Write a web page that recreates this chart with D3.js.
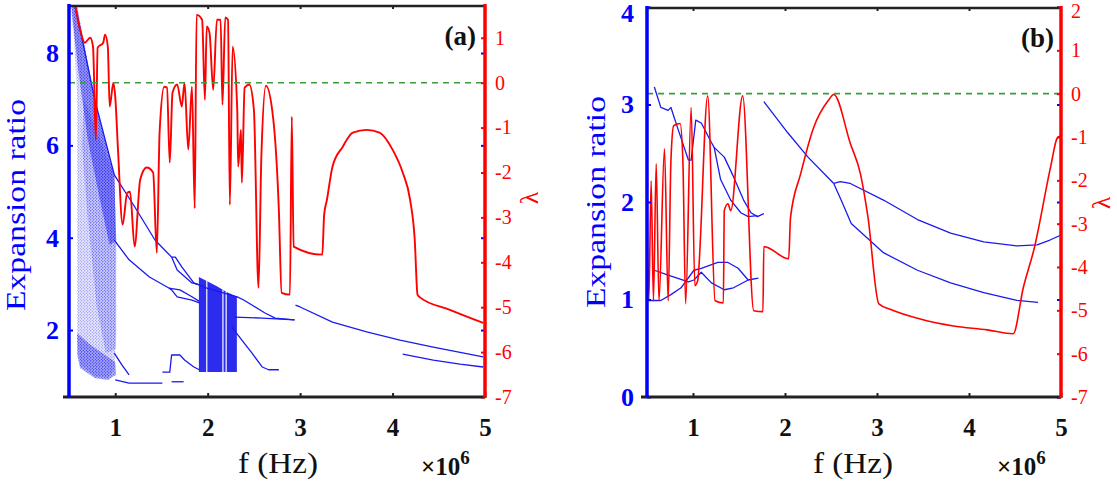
<!DOCTYPE html>
<html><head><meta charset="utf-8">
<script src="https://cdn.jsdelivr.net/npm/d3@7"></script>
<style>body{margin:0;background:#fff;}svg{display:block;}</style>
</head><body>
<svg id="chart" width="1117" height="481"></svg>
<script>
// ---------------- DATA ----------------
const xTicks = [1, 2, 3, 4, 5];
const xTopTicks = [1, 2, 3, 4];
const aLeftTicks = [2, 4, 6, 8];
const aRightTicks = [-7, -6, -5, -4, -3, -2, -1, 0, 1];
const bLeftTicks = [0, 1, 2, 3, 4];
const bRightTicks = [-7, -6, -5, -4, -3, -2, -1, 0, 1, 2];
const lambdaZero = 0;

// panel (a): Lyapunov exponent lambda vs f (x1e6 Hz)
const aLambda = [[0.565,1.74],[0.62,1.18],[0.67,0.89],[0.73,1.0],[0.76,0.80],[0.79,-1.27],[0.81,0.78],[0.87,0.89],[0.89,1.07],[0.92,0.80],[0.94,-0.53],[0.98,0],[1.0,-0.31],[1.03,-1.49],[1.08,-3.16],[1.13,-2.45],[1.16,-2.43],[1.21,-3.65],[1.27,-2.16],[1.34,-1.89],[1.41,-2.0],[1.45,-3.79],[1.48,-1.11],[1.53,-0.09],[1.56,-0.11],[1.59,-1.78],[1.62,-0.22],[1.67,-0.04],[1.72,-0.53],[1.75,0],[1.79,-1.49],[1.83,-0.09],[1.86,-2.8],[1.88,1.51],[1.94,1.40],[1.97,-0.38],[1.99,1.25],[2.02,1.11],[2.06,-0.16],[2.10,1.40],[2.14,1.40],[2.16,-0.49],[2.19,1.45],[2.22,1.40],[2.24,-2.72],[2.27,0.80],[2.32,-0.60],[2.33,-1.87],[2.36,-1.05],[2.37,-2.23],[2.40,-0.11],[2.45,-0.04],[2.50,-0.60],[2.55,-4.57],[2.58,-1.71],[2.63,-0.07],[2.71,-0.82],[2.77,-2.83],[2.80,-4.68],[2.89,-4.72],[2.91,-0.76],[2.93,-3.65],[3.24,-3.83],[3.26,-2.94],[3.29,-2.61],[3.35,-1.87],[3.46,-1.43],[3.57,-1.11],[3.72,-1.05],[3.86,-1.11],[4.00,-1.49],[4.11,-2.0],[4.19,-2.61],[4.24,-3.50],[4.27,-4.72],[4.29,-4.77],[4.62,-5.06],[4.98,-5.35]];

// panel (a): expansion-ratio branches
const aCurve1 = [[0.565,9.04],[0.78,6.98],[0.99,5.36],[1.21,4.67],[1.43,3.95],[1.61,3.58]];
const aLoop1Upper = [[1.61,3.58],[1.65,3.58],[1.72,3.37],[1.85,3.02],[1.91,2.98],[2.0,2.90],[2.32,2.72],[2.39,2.65],[2.62,2.37],[2.73,2.26],[2.94,2.22]];
const aLoop1Lower = [[1.61,3.58],[1.67,3.30],[1.83,3.02],[1.91,2.98]];
const aCurve2 = [[0.99,3.95],[1.15,3.52],[1.37,3.15],[1.58,2.91],[1.61,2.87],[1.67,2.72],[1.83,2.65],[1.91,2.59]];
const aLoop2 = [[1.58,2.91],[1.70,2.87],[1.83,2.72],[1.91,2.62]];
const aBranch2 = [[2.29,2.28],[2.59,2.26],[2.94,2.22]];
const aDescend = [[2.26,2.07],[2.37,1.78],[2.48,1.50],[2.59,1.20],[2.66,1.14],[2.77,1.14]];
const aLong = [[2.95,2.54],[3.0,2.50],[3.35,2.17],[3.72,1.96],[4.08,1.78],[4.44,1.63],[4.98,1.42]];
const aShort = [[4.11,1.48],[4.44,1.35],[4.73,1.26],[4.98,1.20]];
const aBump = [[1.51,1.09],[1.59,1.09],[1.61,1.46],[1.70,1.46],[1.75,1.35],[1.85,1.20],[1.91,1.14]];
const aBottom = [[1.0,0.92],[1.15,0.85],[1.51,0.85]];
const aBottom2 = [[1.61,0.88],[1.74,0.88]];
const aWisp = [[0.99,1.50],[1.07,1.25],[1.15,1.03]];
// chaotic clouds (outlines of the dense scatter regions)
const aCloudOuter = [[0.52,9.04],[0.575,9.04],[0.78,6.98],[0.99,5.36],[1.01,3.95],[1.01,2.0],[0.99,1.14],[0.92,0.96],[0.78,1.0],[0.62,1.24],[0.59,1.78],[0.59,3.73],[0.59,6.98],[0.555,8.28]];
const aCloudMid = [[0.66,7.0],[0.99,5.36],[1.01,3.95],[1.01,1.6],[0.90,1.5],[0.80,2.5],[0.70,4.5],[0.64,6.0]];
const aCloudBand = [[0.53,9.04],[0.585,9.04],[0.78,6.98],[0.99,5.36],[1.01,3.95],[0.94,3.84],[0.835,4.82],[0.705,6.11],[0.60,7.63],[0.54,8.72]];
const aCloudBlob = [[0.59,1.93],[0.73,1.68],[0.89,1.46],[1.0,1.31],[1.01,1.03],[0.92,0.92],[0.78,0.96],[0.62,1.18],[0.59,1.46]];
const aBlockX = [1.905, 2.0, 2.1, 2.2, 2.316];
const aBlockTop = [3.15, 3.05, 2.95, 2.83, 2.72];
const aBlockBottom = 1.09;
const aBlockGaps = [1.99, 2.165, 2.2];

// panel (b)
const bLambda = [[0.5,-2.2],[0.52,-4.78],[0.545,-2.01],[0.57,-4.78],[0.60,-1.62],[0.63,-4.78],[0.69,-1.27],[0.73,-4.78],[0.76,-1.55],[0.79,-0.74],[0.86,-0.69],[0.89,-1.55],[0.92,-4.85],[0.98,-0.32],[1.02,-4.43],[1.05,-4.32],[1.16,-0.05],[1.24,-4.78],[1.33,-4.83],[1.34,-2.70],[1.38,-2.54],[1.41,-2.70],[1.54,-0.05],[1.66,-5.01],[1.76,-5.03],[1.77,-3.53],[2.04,-3.81],[2.06,-2.86],[2.17,-1.85],[2.31,-0.79],[2.47,-0.16],[2.53,-0.02],[2.71,-1.15],[2.82,-1.85],[2.90,-2.82],[3.02,-4.85],[3.15,-4.98],[3.47,-5.20],[3.83,-5.36],[4.20,-5.45],[4.48,-5.54],[4.59,-4.48],[4.71,-3.56],[4.89,-1.66],[4.96,-1.02],[5.0,-0.97]];
const bCurve1 = [[0.58,3.18],[0.65,2.97],[0.73,2.94],[0.76,2.97],[0.84,2.74],[0.95,2.43],[0.98,2.43],[1.03,2.84],[1.09,2.81],[1.20,2.61],[1.23,2.56],[1.34,2.46],[1.44,2.26],[1.55,2.02],[1.63,1.89],[1.70,1.85],[1.77,1.88]];
const bCurve2 = [[1.23,2.56],[1.30,2.23],[1.41,2.02],[1.52,1.89],[1.60,1.85],[1.70,1.86]];
const bLow1 = [[0.51,0.99],[0.65,0.99],[0.76,1.05],[0.87,1.12],[1.01,1.30],[1.09,1.32],[1.27,1.38],[1.38,1.38],[1.49,1.32],[1.60,1.20],[1.71,1.22]];
const bLow2 = [[0.58,1.30],[0.73,1.25],[0.95,1.18],[1.01,1.20],[1.09,1.28],[1.20,1.17],[1.34,1.10],[1.44,1.12],[1.60,1.20]];
const bMain = [[1.77,3.03],[2.03,2.71],[2.25,2.46],[2.53,2.19]];
const bUpper = [[2.53,2.19],[2.60,2.21],[2.71,2.19],[3.07,2.02],[3.44,1.82],[3.80,1.68],[4.16,1.59],[4.52,1.55],[4.74,1.56],[4.88,1.61],[5.0,1.66]];
const bLower = [[2.53,2.19],[2.61,2.02],[2.72,1.78],[3.07,1.48],[3.44,1.30],[3.80,1.17],[4.16,1.07],[4.52,0.99],[4.75,0.97]];

// ---------------- DRAWING ----------------
const FONT = '"Liberation Serif","Times New Roman",Times,serif';
const BLUE = '#1a1aee', AXBLUE = '#0000ff', RED = '#ff0000', GREEN = '#3c9c3c', DARK = '#222';
const svg = d3.select('#chart');
const defs = svg.append('defs');
const pat = defs.append('pattern').attr('id','dots').attr('patternUnits','userSpaceOnUse').attr('width',3).attr('height',3);
pat.append('circle').attr('cx',0.8).attr('cy',0.8).attr('r',0.6).attr('fill',BLUE);
pat.append('circle').attr('cx',2.3).attr('cy',2.2).attr('r',0.5).attr('fill',BLUE);

function drawPanel(cfg, d) {
  const x = d3.scaleLinear().domain([0.5, 5]).range([cfg.left, cfg.right]);
  const yL = d3.scaleLinear().domain(cfg.yL).range([cfg.bottom, cfg.top]);
  const yR = d3.scaleLinear().domain(cfg.yR).range([cfg.bottom, cfg.top]);
  defs.append('clipPath').attr('id','clip'+cfg.id).append('rect')
    .attr('x',cfg.left).attr('y',cfg.top).attr('width',cfg.right-cfg.left).attr('height',cfg.bottom-cfg.top);
  const plot = svg.append('g').attr('clip-path','url(#clip'+cfg.id+')');
  const lineL = d3.line().x(p=>x(p[0])).y(p=>yL(p[1]));
  const polyL = d3.line().x(p=>x(p[0])).y(p=>yL(p[1])).curve(d3.curveLinearClosed);
  const lineR = d3.line().x(p=>x(p[0])).y(p=>yR(p[1])).curve(d3.curveMonotoneX);

  (d.clouds||[]).forEach(c => {
    if (c.op) plot.append('path').attr('d', polyL(c.pts)).attr('fill','url(#dots)').attr('opacity',c.op);
    if (c.solid) plot.append('path').attr('d', polyL(c.pts)).attr('fill',BLUE).attr('opacity',c.solid);
  });
  if (d.block) {
    const area = d3.area().x(p=>x(p[0])).y0(yL(d.block.bottom)).y1(p=>yL(p[1]));
    const pts = d.block.xs.map((v,i)=>[v, d.block.tops[i]]);
    plot.append('path').attr('d', area(pts)).attr('fill',BLUE).attr('opacity',0.92);
    const topAt = d3.scaleLinear().domain(d.block.xs).range(d.block.tops);
    plot.selectAll('.gap'+cfg.id).data(d.block.gaps).join('line')
      .attr('x1',g=>x(g)).attr('x2',g=>x(g)).attr('y1',yL(d.block.bottom)).attr('y2',g=>yL(topAt(g)))
      .attr('stroke','#fff').attr('stroke-width',1.4).attr('opacity',0.85);
  }
  d.blue.forEach(arr => plot.append('path').attr('d', lineL(arr)).attr('fill','none')
    .attr('stroke',BLUE).attr('stroke-width',1.3).attr('stroke-linejoin','round'));
  plot.append('path').attr('d', lineR(d.red)).attr('fill','none').attr('stroke',RED)
    .attr('stroke-width',cfg.redW).attr('stroke-linejoin','round');
  plot.append('line').attr('x1',x(0.5)).attr('x2',x(5)).attr('y1',yR(lambdaZero)).attr('y2',yR(lambdaZero))
    .attr('stroke',GREEN).attr('stroke-width',1.6).attr('stroke-dasharray','6,5');

  // axes
  const axB = svg.append('g').attr('transform',`translate(0,${cfg.bottom})`)
    .call(d3.axisBottom(x).tickValues(xTicks).tickSize(-4).tickSizeOuter(0).tickPadding(21).tickFormat(d=>String(d)));
  axB.select('.domain').remove();
  axB.selectAll('line').attr('stroke',DARK).attr('stroke-width',2);
  axB.selectAll('text').attr('font-family',FONT).attr('font-size',25).attr('font-weight','bold').attr('fill','#111');
  const axT = svg.append('g').attr('transform',`translate(0,${cfg.top})`)
    .call(d3.axisTop(x).tickValues(xTopTicks).tickSize(-4).tickSizeOuter(0).tickFormat(''));
  axT.select('.domain').remove();
  axT.selectAll('line').attr('stroke',DARK).attr('stroke-width',2);
  const axL = svg.append('g').attr('transform',`translate(${cfg.left},0)`)
    .call(d3.axisLeft(yL).tickValues(cfg.leftTicks).tickSize(-4).tickSizeOuter(0).tickPadding(cfg.leftPad).tickFormat(d=>String(d)));
  axL.select('.domain').remove();
  axL.selectAll('line').attr('stroke',AXBLUE).attr('stroke-width',2);
  axL.selectAll('text').attr('font-family',FONT).attr('font-size',26).attr('font-weight','bold').attr('fill',AXBLUE);
  axL.selectAll('.tick').filter(v=>yL(v) < cfg.top + 4).select('text').attr('transform','translate(0,6)');
  const axRb = svg.append('g').attr('transform',`translate(${cfg.right},0)`)
    .call(d3.axisRight(yL).tickValues(cfg.leftTicks).tickSize(-4).tickSizeOuter(0).tickFormat(''));
  axRb.select('.domain').remove();
  axRb.selectAll('line').attr('stroke',AXBLUE).attr('stroke-width',2);
  const axR = svg.append('g').attr('transform',`translate(${cfg.right},0)`)
    .call(d3.axisRight(yR).tickValues(cfg.rightTicks).tickSize(-4).tickSizeOuter(0).tickPadding(10).tickFormat(d=>String(d)));
  axR.select('.domain').remove();
  axR.selectAll('line').attr('stroke',RED).attr('stroke-width',2);
  axR.selectAll('text').attr('font-family',FONT).attr('font-size',20).attr('fill',RED);
  axR.selectAll('.tick').filter(v=>yR(v) < cfg.top + 4).select('text').attr('transform','translate(0,4)');

  // spines
  svg.append('line').attr('x1',cfg.left-6).attr('x2',cfg.right).attr('y1',cfg.bottom).attr('y2',cfg.bottom).attr('stroke',DARK).attr('stroke-width',3);
  svg.append('line').attr('x1',cfg.left).attr('x2',cfg.right).attr('y1',cfg.top+1).attr('y2',cfg.top+1).attr('stroke',DARK).attr('stroke-width',2.5);
  svg.append('line').attr('x1',cfg.left).attr('x2',cfg.left).attr('y1',cfg.top-1).attr('y2',cfg.bottom).attr('stroke',AXBLUE).attr('stroke-width',3.5);
  svg.append('line').attr('x1',cfg.right).attr('x2',cfg.right).attr('y1',cfg.top-1).attr('y2',cfg.bottom+1).attr('stroke',RED).attr('stroke-width',3.5);

  // labels
  svg.append('text').attr('transform',`translate(${cfg.ylabX},${cfg.ylabY}) rotate(-90)`).attr('text-anchor','middle')
    .attr('font-family',FONT).attr('font-size',28).attr('fill',AXBLUE)
    .attr('textLength',212).attr('lengthAdjust','spacingAndGlyphs').text('Expansion ratio');
  svg.append('text').attr('transform',`translate(${cfg.lamX},${cfg.lamY}) rotate(-90)`).attr('text-anchor','middle')
    .attr('font-family',FONT).attr('font-size',26).attr('fill',RED).text('λ');
  svg.append('text').attr('x',cfg.xlabX).attr('y',473).attr('text-anchor','middle')
    .attr('font-family',FONT).attr('font-size',30).attr('fill','#111')
    .attr('textLength',80).attr('lengthAdjust','spacingAndGlyphs').text('f (Hz)');
  const ex = svg.append('text').attr('x',cfg.expX).attr('y',475).attr('font-family',FONT).attr('fill','#111').attr('font-weight','bold');
  ex.append('tspan').attr('font-size',25).text('×10');
  ex.append('tspan').attr('font-size',19).attr('dy',-11).text('6');
  svg.append('text').attr('x',cfg.labX).attr('y',cfg.labY).attr('text-anchor','end')
    .attr('font-family',FONT).attr('font-size',27).attr('font-weight','bold').attr('fill','#111').text(cfg.label);
}

drawPanel({id:'a', left:69, right:485, top:5, bottom:397, yL:[0.55,9.04], yR:[-7,1.73], leftTicks:aLeftTicks,
  rightTicks:aRightTicks, leftPad:10, redW:1.9, ylabX:25, ylabY:205, lamX:538, lamY:198, xlabX:278, expX:421,
  label:'(a)', labX:476, labY:45},
 {clouds:[{pts:aCloudOuter, op:0.6, solid:0.1},{pts:aCloudMid, op:0.5, solid:0.12},{pts:aCloudBand, op:0.8, solid:0.38},{pts:aCloudBlob, op:0.8, solid:0.32}],
  block:{xs:aBlockX, tops:aBlockTop, bottom:aBlockBottom, gaps:aBlockGaps},
  blue:[aCurve1,aLoop1Upper,aLoop1Lower,aCurve2,aLoop2,aBranch2,aDescend,aLong,aShort,aBump,aBottom,aBottom2,aWisp],
  red:aLambda});
drawPanel({id:'b', left:647, right:1061, top:7, bottom:397, yL:[0,4], yR:[-7,2], leftTicks:bLeftTicks,
  rightTicks:bRightTicks, leftPad:13, redW:1.6, ylabX:605, ylabY:202, lamX:1110, lamY:203, xlabX:853, expX:997,
  label:'(b)', labX:1054, labY:47},
 {blue:[bCurve1,bCurve2,bLow1,bLow2,bMain,bUpper,bLower], red:bLambda});
</script></body></html>
